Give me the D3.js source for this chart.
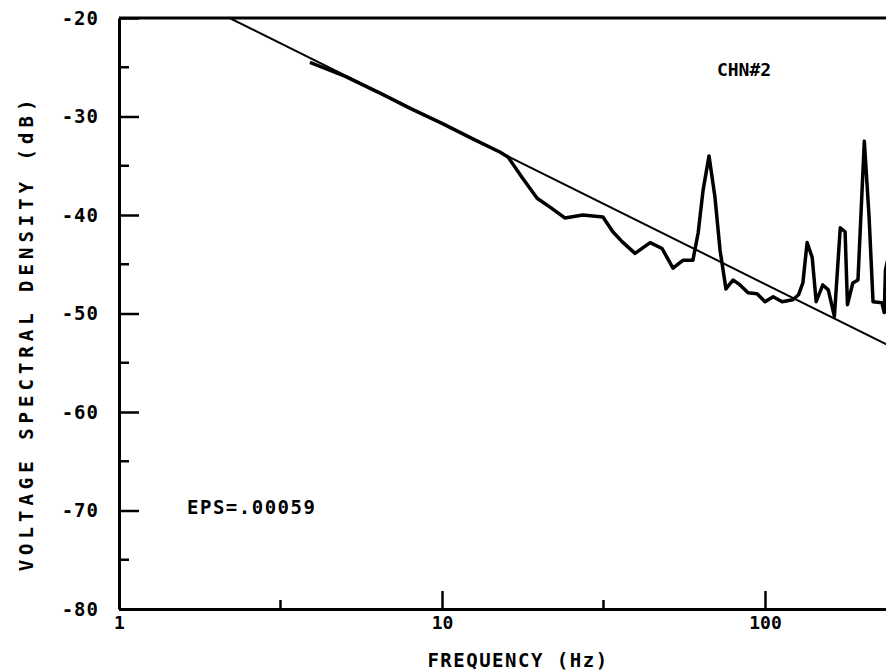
<!DOCTYPE html>
<html>
<head>
<meta charset="utf-8">
<script src="https://cdn.jsdelivr.net/npm/d3@7"></script>
<style>
  body { margin: 0; background: #fff; }
  svg text { font-family: "DejaVu Sans Mono", monospace; font-weight: bold; fill: #000; }
</style>
</head>
<body>
<script>
// values
const freqTicks = [1, 10, 100];
const freqMinor = [3.162, 31.62, 316.2];
const dbTicks = [-80, -70, -60, -50, -40, -30, -20];
const dbMinor = [-75, -65, -55, -45, -35, -25];

// straight fitted slope
const fitFreq = [2.2, 1000];
const fitDb = [-20, -63.3];

// measured spectrum CHN#2
const specFreq = [3.9, 5.0, 6.5, 8.0, 10.0, 12.5, 15.1, 16.0, 17.7, 19.7, 21.6, 24.0, 27.3, 31.5, 33.8, 36.1,
  39.6, 44.1, 48.0, 51.9, 55.7, 59.8, 62.1, 64.3, 67.1, 70.0, 72.6, 75.7, 79.6, 83.7, 88.6, 94.5,
  100, 106, 113, 122, 127, 131, 135, 140, 144, 151, 157, 164, 171, 177, 180, 187, 194, 203, 210,
  216, 230, 234, 236, 240];
const specDb = [-24.5, -25.9, -27.7, -29.2, -30.7, -32.3, -33.6, -34.1, -36.2, -38.3, -39.2, -40.3, -40.0, -40.2, -41.7, -42.7,
  -43.9, -42.8, -43.4, -45.4, -44.6, -44.6, -41.8, -37.5, -34.0, -38.2, -43.6, -47.5, -46.6, -47.1, -47.9, -48.0,
  -48.8, -48.3, -48.8, -48.6, -48.1, -46.9, -42.8, -44.3, -48.8, -47.1, -47.6, -50.3, -41.3, -41.7, -49.1, -46.9, -46.6, -32.5, -40.2,
  -48.8, -48.9, -49.9, -45.6, -44.5];

const W = 886, H = 672;
const x = d3.scaleLog().domain([1, 1000]).range([119, 1088]);
const y = d3.scaleLinear().domain([-80, -20]).range([609, 18]);

const svg = d3.select("body").append("svg")
  .attr("width", W)
  .attr("height", H);

svg.append("defs").append("clipPath")
  .attr("id", "plot")
  .append("rect")
  .attr("x", x(1)).attr("y", y(-20))
  .attr("width", x(1000) - x(1)).attr("height", y(-80) - y(-20));

// frame top
svg.append("line")
  .attr("x1", x(1)).attr("x2", x(1000))
  .attr("y1", y(-20)).attr("y2", y(-20))
  .attr("stroke", "#000").attr("stroke-width", 3);

// x axis
const xAxis = svg.append("g")
  .attr("transform", `translate(0,${y(-80)})`)
  .call(d3.axisBottom(x).tickValues(freqTicks).tickFormat(d => String(d))
    .tickSizeInner(-18).tickSizeOuter(0).tickPadding(7));
xAxis.selectAll("text").style("font-size", "18px");

xAxis.selectAll(".minor")
  .data(freqMinor)
  .enter().append("line")
  .attr("class", "minor")
  .attr("x1", d => x(d)).attr("x2", d => x(d))
  .attr("y1", 0).attr("y2", -9);

// y axis
const yAxis = svg.append("g")
  .attr("transform", `translate(${x(1)},0)`)
  .call(d3.axisLeft(y).tickValues(dbTicks).tickFormat(d => String(d))
    .tickSizeInner(-20).tickSizeOuter(0).tickPadding(20));
yAxis.selectAll("text").style("font-size", "19px").style("letter-spacing", "1px");

yAxis.selectAll(".minor")
  .data(dbMinor)
  .enter().append("line")
  .attr("class", "minor")
  .attr("y1", d => y(d)).attr("y2", d => y(d))
  .attr("x1", 0).attr("x2", 10);

svg.selectAll(".domain").attr("stroke-width", 3);
svg.selectAll(".tick line, .minor").attr("stroke", "#000").attr("stroke-width", 2.5);

// fit line
svg.append("path")
  .datum(fitFreq.map((f, i) => [f, fitDb[i]]))
  .attr("clip-path", "url(#plot)")
  .attr("fill", "none")
  .attr("stroke", "#000")
  .attr("stroke-width", 2)
  .attr("d", d3.line().x(d => x(d[0])).y(d => y(d[1])));

// spectrum
svg.append("path")
  .datum(specFreq.map((f, i) => [f, specDb[i]]))
  .attr("clip-path", "url(#plot)")
  .attr("fill", "none")
  .attr("stroke", "#000")
  .attr("stroke-width", 3.5)
  .attr("stroke-linejoin", "round")
  .attr("d", d3.line().x(d => x(d[0])).y(d => y(d[1])));

// annotations
svg.append("text")
  .attr("x", 744).attr("y", 76)
  .attr("text-anchor", "middle")
  .style("font-size", "18px")
  .text("CHN#2");

svg.append("text")
  .attr("x", 187).attr("y", 514)
  .style("font-size", "19px")
  .style("letter-spacing", "1.5px")
  .text("EPS=.00059");

svg.append("text")
  .attr("x", 518).attr("y", 667)
  .attr("text-anchor", "middle")
  .style("font-size", "19px")
  .style("letter-spacing", "1.5px")
  .text("FREQUENCY (Hz)");

svg.append("text")
  .attr("transform", `translate(33,${333}) rotate(-90)`)
  .attr("text-anchor", "middle")
  .style("font-size", "19px")
  .style("letter-spacing", "5px")
  .text("VOLTAGE SPECTRAL DENSITY (dB)");
</script>
</body>
</html>
